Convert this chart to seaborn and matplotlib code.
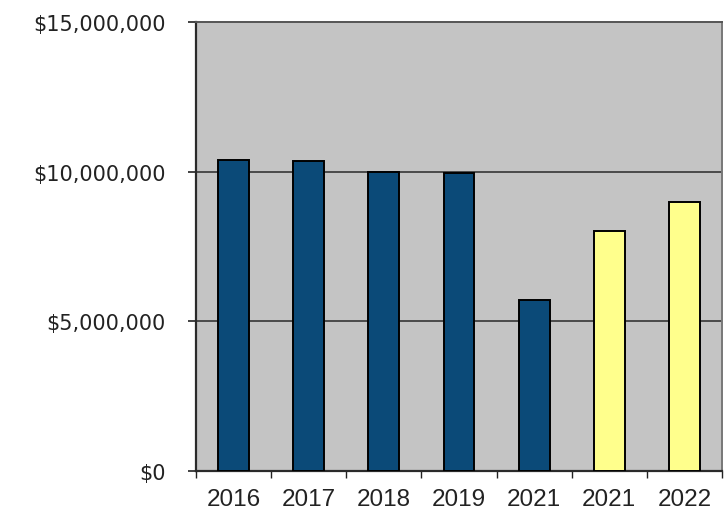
import numpy as np
import pandas as pd
import matplotlib
matplotlib.use("Agg")
import matplotlib.pyplot as plt
import seaborn as sns
from matplotlib.ticker import FuncFormatter, FixedLocator

# Data
year_labels = ["2016", "2017", "2018", "2019", "2021", "2021", "2022"]
values = [10400000, 10360000, 9980000, 9970000, 5710000, 8010000, 8990000]
kinds = ["actual", "actual", "actual", "actual", "actual", "projected", "projected"]

# unique slot keys so the two "2021" bars stay separate
slots = [f"{lab}_{i}" for i, lab in enumerate(year_labels)]
df = pd.DataFrame({"slot": slots, "value": values, "kind": kinds})

sns.set_style("white")
plt.rcParams["font.family"] = ["Liberation Sans", "DejaVu Sans"]

fig = plt.figure(figsize=(7.28, 5.10), dpi=100)
ax = fig.add_axes([196 / 728, 1 - 472 / 510, 526 / 728, 449 / 510])
ax.set_facecolor("#c4c4c4")

sns.barplot(data=df, x="slot", y="value", hue="kind", order=slots,
            palette={"actual": "#0b4a78", "projected": "#ffff8c"},
            saturation=1, dodge=False, width=0.41, edgecolor="black",
            linewidth=1.4, legend=False, ax=ax, zorder=3)

ax.set_xlim(-0.5, len(slots) - 0.5)
ax.set_ylim(0, 15000000)
ax.set_yticks([0, 5000000, 10000000, 15000000])
ax.yaxis.set_major_formatter(FuncFormatter(lambda v, p: f"${v:,.0f}"))
ax.set_xticks(range(len(slots)))
ax.set_xticklabels(year_labels)
ax.xaxis.set_minor_locator(FixedLocator(np.arange(-0.5, len(slots), 1.0)))

ax.set_xlabel("")
ax.set_ylabel("")

for yv in [5000000, 10000000]:
    ax.axhline(yv, color="#2a2a2a", linewidth=1.1, zorder=2)

ax.tick_params(axis="y", which="major", direction="out", length=6, width=1.2,
               color="#222222", pad=16, labelsize=15, labelcolor="#222222", left=True)
for lab in ax.get_yticklabels():
    lab.set_fontfamily("DejaVu Sans")
ax.tick_params(axis="x", which="major", length=0, pad=12, labelsize=17.5,
               labelcolor="#222222")
ax.tick_params(axis="x", which="minor", direction="out", length=5, width=1.0,
               color="#222222", bottom=True)

for side in ["left", "bottom"]:
    ax.spines[side].set_color("#2a2a2a")
    ax.spines[side].set_linewidth(1.6)
ax.spines["top"].set_color("#555555")
ax.spines["top"].set_linewidth(1.4)
ax.spines["right"].set_color("#777777")
ax.spines["right"].set_linewidth(1.4)

fig.savefig("out.png", dpi=100)
